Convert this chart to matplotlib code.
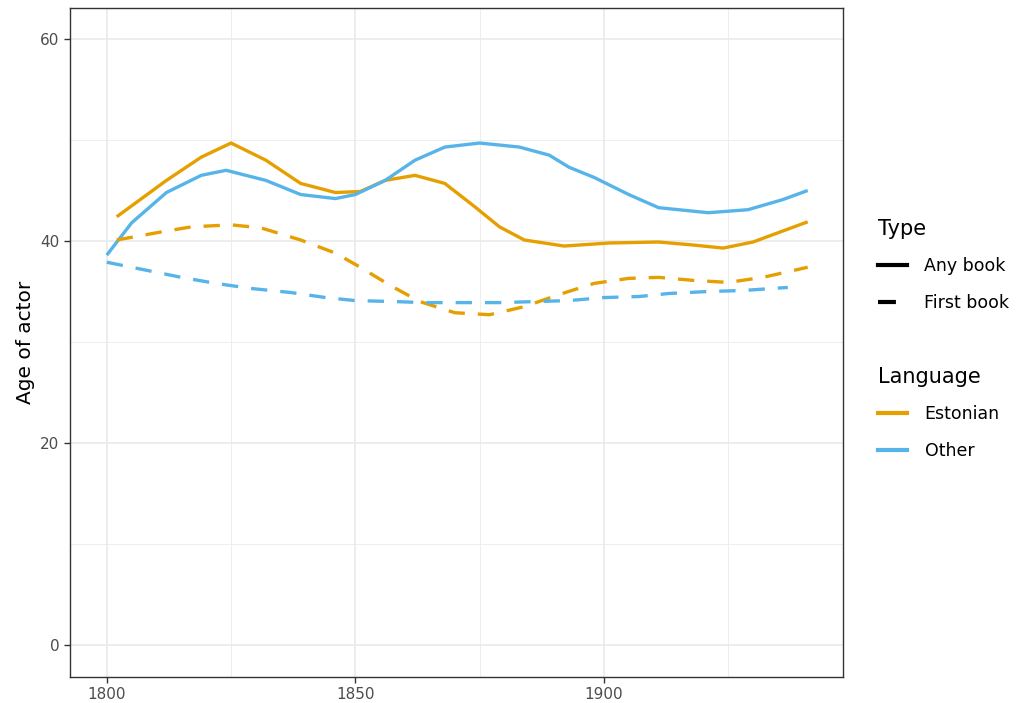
import numpy as np
import matplotlib
matplotlib.use("Agg")
import matplotlib.pyplot as plt
from matplotlib.lines import Line2D

# Datos (año, edad del actor)
est_any_year = [1802, 1812, 1819, 1825, 1832, 1839, 1846, 1851, 1856, 1862, 1868,
                1874, 1879, 1884, 1892, 1901, 1911, 1918, 1924, 1930, 1941]
est_any_age = [42.4, 46.0, 48.3, 49.7, 48.0, 45.7, 44.8, 44.9, 46.0, 46.5, 45.7,
               43.4, 41.4, 40.1, 39.5, 39.8, 39.9, 39.6, 39.3, 39.9, 41.9]

oth_any_year = [1800, 1805, 1812, 1819, 1824, 1832, 1839, 1846, 1850, 1856, 1862,
                1868, 1875, 1883, 1889, 1893, 1898, 1905, 1911, 1921, 1929, 1936, 1941]
oth_any_age = [38.6, 41.8, 44.8, 46.5, 47.0, 46.0, 44.6, 44.2, 44.6, 46.0, 48.0,
               49.3, 49.7, 49.3, 48.5, 47.3, 46.3, 44.6, 43.3, 42.8, 43.1, 44.1, 45.0]

est_first_year = [1802, 1811, 1817, 1825, 1831, 1839, 1846, 1851, 1857, 1863, 1870,
                  1877, 1884, 1891, 1898, 1905, 1911, 1918, 1925, 1932, 1941]
est_first_age = [40.1, 40.9, 41.4, 41.6, 41.3, 40.1, 38.8, 37.4, 35.6, 34.0, 32.9,
                 32.7, 33.5, 34.7, 35.8, 36.3, 36.4, 36.1, 35.9, 36.4, 37.4]

oth_first_year = [1800, 1808, 1815, 1822, 1829, 1837, 1844, 1850, 1858, 1864, 1872,
                  1879, 1886, 1893, 1900, 1907, 1913, 1921, 1928, 1937]
oth_first_age = [37.9, 37.1, 36.4, 35.8, 35.3, 34.9, 34.4, 34.1, 34.0, 33.9, 33.9,
                 33.9, 34.0, 34.1, 34.4, 34.5, 34.8, 35.0, 35.1, 35.4]

x_ticks = [1800, 1850, 1900]
y_ticks = [0, 20, 40, 60]

naranja = '#E69F00'
azul = '#56B4E9'
lw = 2.4
guiones = (4.9, 3.9)

fig = plt.figure(figsize=(10.17, 7.03), dpi=100)
ax = fig.add_axes([70/1017, 1-677/703, (843-70)/1017, (677-8)/703])

# rejilla estilo theme_bw
for v in [1825, 1875, 1925]:
    ax.axvline(v, color='#EBEBEB', lw=0.6, zorder=0)
for v in [10, 30, 50]:
    ax.axhline(v, color='#EBEBEB', lw=0.6, zorder=0)
for v in x_ticks:
    ax.axvline(v, color='#E8E8E8', lw=1.1, zorder=0)
for v in y_ticks:
    ax.axhline(v, color='#E8E8E8', lw=1.1, zorder=0)

ax.plot(est_any_year, est_any_age, color=naranja, lw=lw, solid_capstyle='butt',
        solid_joinstyle='round')
ax.plot(oth_any_year, oth_any_age, color=azul, lw=lw, solid_capstyle='butt',
        solid_joinstyle='round')
ax.plot(est_first_year, est_first_age, color=naranja, lw=lw,
        dashes=guiones, dash_capstyle='butt')
ax.plot(oth_first_year, oth_first_age, color=azul, lw=lw,
        dashes=guiones, dash_capstyle='butt')

ax.set_xlim(1792.6, 1948.1)
ax.set_ylim(-3.17, 63.07)
ax.set_xticks(x_ticks)
ax.set_yticks(y_ticks)
ax.tick_params(colors='#333333', labelcolor='#4D4D4D', labelsize=11,
               length=4, width=1)
for s in ax.spines.values():
    s.set_color('#333333')
    s.set_linewidth(1)
ax.set_ylabel('Age of actor', fontsize=14.5, labelpad=4)

# leyendas
h_type = [Line2D([], [], color='black', lw=3),
          Line2D([], [], color='black', lw=3, dashes=(4.3, 6), dash_capstyle='butt')]
leg1 = fig.legend(h_type, ['Any book', 'First book'], title='Type',
                  loc='upper left', bbox_to_anchor=(862/1017, 1-203/703),
                  frameon=False, fontsize=12.5, title_fontsize=15,
                  handlelength=1.7, handletextpad=1.0, labelspacing=1.08,
                  alignment='left')
h_lang = [Line2D([], [], color=naranja, lw=3),
          Line2D([], [], color=azul, lw=3)]
leg2 = fig.legend(h_lang, ['Estonian', 'Other'], title='Language',
                  loc='upper left', bbox_to_anchor=(862/1017, 1-351/703),
                  frameon=False, fontsize=12.5, title_fontsize=15,
                  handlelength=1.7, handletextpad=1.0, labelspacing=1.08,
                  alignment='left')

fig.savefig('out.png', dpi=100)
